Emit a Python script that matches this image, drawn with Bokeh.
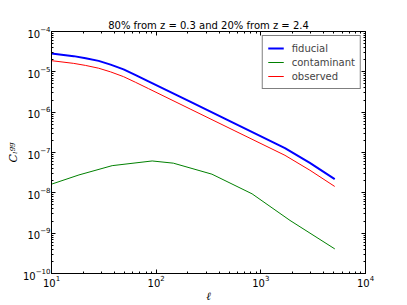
from bokeh.plotting import figure
from bokeh.models import Range1d, LogAxis, LogTicker, Legend, LegendItem, CustomJSTickFormatter
from bokeh.embed import file_html
from bokeh.resources import INLINE

# data
ell_fid = [10, 16.3, 21.2, 28.2, 36.7, 48.8, 63.7, 84.4, 211, 566, 1700, 2940, 5080]
cl_fiducial = [2.86e-5, 2.45e-5, 2.18e-5, 1.87e-5, 1.51e-5, 1.15e-5, 8.30e-6,
               5.82e-6, 1.82e-6, 5.20e-7, 1.29e-7, 5.51e-8, 2.18e-8]
cl_observed = [1.89e-5, 1.62e-5, 1.44e-5, 1.23e-5, 9.97e-6, 7.59e-6, 5.48e-6,
               3.84e-6, 1.20e-6, 3.43e-7, 8.51e-8, 3.64e-8, 1.44e-8]
ell_con = [10, 18.3, 38, 91.6, 146, 341, 825, 1900, 5090]
cl_contaminant = [1.64e-8, 2.78e-8, 4.72e-8, 6.17e-8, 5.44e-8, 2.90e-8, 9.44e-9, 2.07e-9, 4.07e-10]

title_text = "80% from z = 0.3 and 20% from z = 2.4"
series_names = ["fiducial", "contaminant", "observed"]
x_label = "ℓ"
y_label = "Cₗᵍᵍ"

FONT = "DejaVu Sans"

p = figure(width=407, height=305, x_axis_type="log", y_axis_type="log",
           x_range=Range1d(10, 1e4), y_range=Range1d(1e-10, 1e-4),
           output_backend="svg", toolbar_location=None,
           min_border_left=51, min_border_right=42, min_border_top=31, min_border_bottom=31)
p.xgrid.visible = False
p.ygrid.visible = False
p.outline_line_color = "black"
p.outline_line_width = 1
p.background_fill_color = "white"
p.border_fill_color = "white"

p.title.text = title_text
p.title.align = "center"
p.title.text_font = FONT
p.title.text_font_size = "10px"
p.title.text_font_style = "normal"
p.title.text_color = "black"
p.title.standoff = 2

bottom_ax = p.below[0]
left_ax = p.left[0]

top_ax = LogAxis(ticker=LogTicker(num_minor_ticks=10),
                 formatter=CustomJSTickFormatter(code="return ''"))
right_ax = LogAxis(ticker=LogTicker(num_minor_ticks=10),
                   formatter=CustomJSTickFormatter(code="return ''"))
p.add_layout(top_ax, "above")
p.add_layout(right_ax, "right")

for ax in [bottom_ax, left_ax, top_ax, right_ax]:
    ax.ticker.num_minor_ticks = 10
    ax.axis_line_color = "black"
    ax.major_tick_in = 4
    ax.major_tick_out = 0
    ax.minor_tick_in = 2
    ax.minor_tick_out = 0
    ax.major_tick_line_color = "black"
    ax.minor_tick_line_color = "black"
    ax.major_label_text_font = FONT
    ax.major_label_text_font_size = "10px"
    ax.major_label_text_color = "black"
    ax.major_label_standoff = 1
for ax in [top_ax, right_ax]:
    ax.major_label_standoff = 0

bottom_ax.axis_label = x_label
bottom_ax.axis_label_text_font = "DejaVu Serif"
bottom_ax.axis_label_text_font_style = "italic"
bottom_ax.axis_label_text_font_size = "11px"
bottom_ax.axis_label_text_color = "black"
bottom_ax.axis_label_standoff = 0
left_ax.axis_label = y_label
left_ax.axis_label_text_font = "DejaVu Serif"
left_ax.axis_label_text_font_style = "italic"
left_ax.axis_label_text_font_size = "11px"
left_ax.axis_label_text_color = "black"
left_ax.axis_label_standoff = 0

r_fid = p.line(ell_fid, cl_fiducial, line_color="#0000ff", line_width=2)
r_con = p.line(ell_con, cl_contaminant, line_color="#008000", line_width=1)
r_obs = p.line(ell_fid, cl_observed, line_color="#ff0000", line_width=1)

legend = Legend(items=[LegendItem(label=series_names[0], renderers=[r_fid]),
                       LegendItem(label=series_names[1], renderers=[r_con]),
                       LegendItem(label=series_names[2], renderers=[r_obs])],
                location="top_right")
legend.margin = 4
legend.padding = 5
legend.spacing = 0
legend.glyph_width = 16
legend.glyph_height = 14
legend.label_height = 14
legend.label_standoff = 8
legend.label_text_font = FONT
legend.label_text_font_size = "10px"
legend.border_line_color = "black"
legend.border_line_width = 1
legend.background_fill_color = "white"
legend.background_fill_alpha = 1
p.add_layout(legend, "center")

open("out.html", "w").write(file_html(p, INLINE))
